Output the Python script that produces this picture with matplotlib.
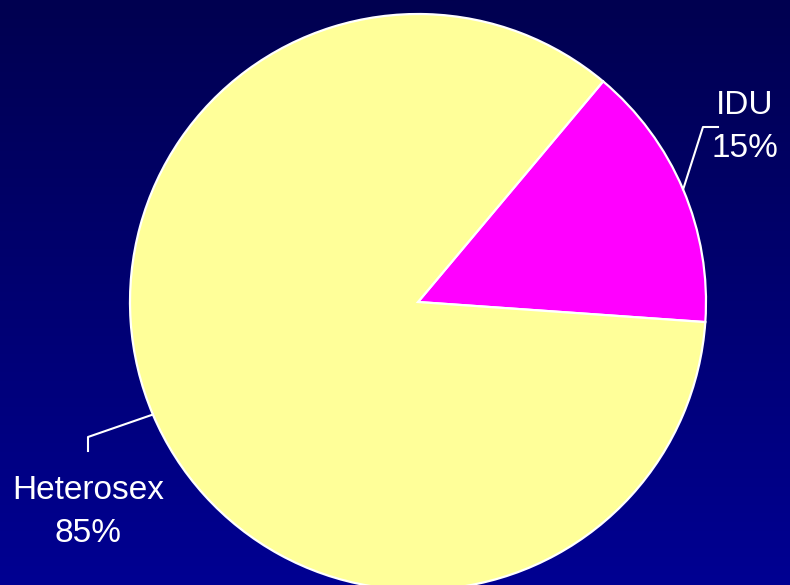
import numpy as np
import matplotlib
matplotlib.use("Agg")
import matplotlib.pyplot as plt

# data
labels = ["IDU", "Heterosex"]
shares = [15, 85]
colors = ["#FF00FF", "#FFFF99"]

W, H = 790, 585
cx, cy, r = 418, H - 302, 288
start = -4

fig = plt.figure(figsize=(W / 100, H / 100), dpi=100)
ax = fig.add_axes([0, 0, 1, 1])

# background gradient, dark navy at top to brighter blue at bottom
grad = np.linspace(0, 1, 256).reshape(-1, 1)
top = np.array([0, 0, 0x50]) / 255
bot = np.array([0, 0, 0x92]) / 255
img = top + (bot - top) * grad[:, :, None]
ax.imshow(img, extent=[0, W, 0, H], aspect="auto", zorder=0, origin="upper")

wedges, _ = ax.pie(shares, colors=colors, startangle=start, counterclock=True,
                   center=(cx, cy), radius=r, frame=True,
                   wedgeprops=dict(edgecolor="white", linewidth=1.6))
for w in wedges:
    w.set_zorder(2)
ax.set_xlim(0, W)
ax.set_ylim(0, H)
ax.set_aspect("equal")
ax.axis("off")

font = dict(family=["Liberation Sans Narrow", "Liberation Sans", "DejaVu Sans"],
            color="white", fontsize=24)

# leader lines from wedge mid-angles
txt_pos = [(745, H - 127), (88, H - 512)]
elbows = [((703, H - 127), (718, H - 127)), ((88, H - 437), (88, H - 451))]
for wdg, lab, val, tp, (e1, e2) in zip(wedges, labels, shares, txt_pos, elbows):
    mid = np.deg2rad((wdg.theta1 + wdg.theta2) / 2)
    x0, y0 = cx + r * np.cos(mid), cy + r * np.sin(mid)
    ax.plot([x0, e1[0], e2[0]], [y0, e1[1], e2[1]], color="white", lw=1.5, zorder=3)
    ax.text(tp[0], tp[1], f"{lab}\n{val}%", ha="center", va="center",
            linespacing=1.5, zorder=4, **font)

fig.savefig("out.png", dpi=100)
